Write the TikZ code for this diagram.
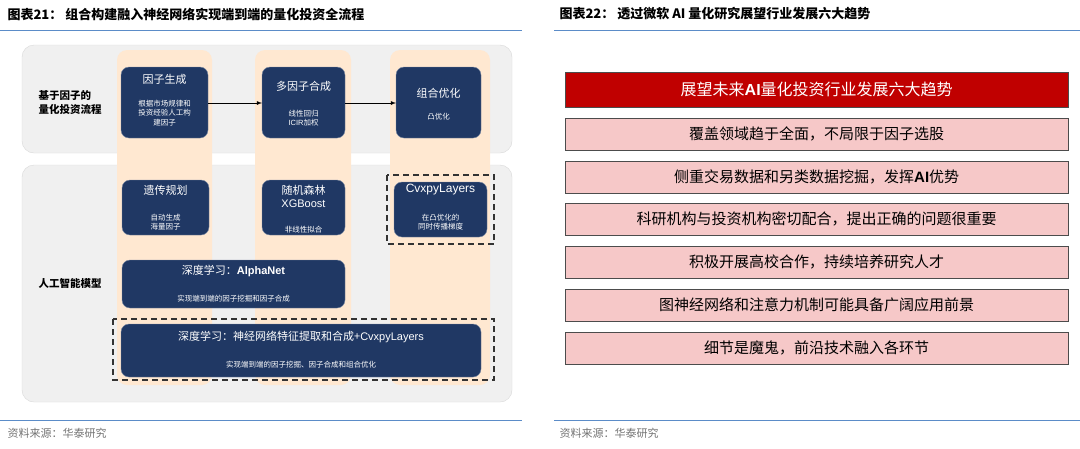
\documentclass[tikz,border=0pt]{standalone}
\usepackage{fontspec}
\setmainfont{Noto Sans CJK SC}
\newfontfamily\latinf{Liberation Sans}
\begin{document}
\begin{tikzpicture}[x=1pt,y=-1pt,
  panel/.style={fill=black!6,draw=black!15,rounded corners=12pt},
  col/.style={fill=orange!18,rounded corners=10pt},
  navy/.style={fill=navybg,draw=navybg!60,rounded corners=8pt},
  dbox/.style={draw=black!80,dashed,line width=1.2pt,dash pattern=on 6pt off 4pt},
  trend/.style={draw=black!70,fill=pinkbg,minimum width=503pt,minimum height=32pt,anchor=north west,font=\fontsize{15}{17}\selectfont},
  wt/.style={text=white,align=center},
  sm/.style={wt,font=\fontsize{7.5}{9.5}\selectfont},
  hd/.style={wt,font=\fontsize{11}{13}\selectfont},
  lbl/.style={font=\bfseries\fontsize{10.5}{14}\selectfont,align=left}]
\definecolor{navybg}{HTML}{203864}
\definecolor{pinkbg}{HTML}{F6C8C8}
\definecolor{redbg}{HTML}{C00000}
\definecolor{bluel}{HTML}{5B8CC8}
\useasboundingbox (0,0) rectangle (1080,448);
% titles
\node[anchor=west,font=\bfseries\fontsize{13}{15}\selectfont] (t1) at (4,14) {图表21：\ 组合构建融入神经网络实现端到端的量化投资全流程};
\node[anchor=west,font=\bfseries\fontsize{13}{15}\selectfont] (t2) at (556,14) {图表22：\ 透过微软 AI 量化研究展望行业发展六大趋势};
\draw[bluel,line width=0.8pt] (0,30) -- (522,30);
\draw[bluel,line width=0.8pt] (554,30) -- (1080,30);
\draw[bluel,line width=0.6pt] (0,420) -- (522,420);
\draw[bluel,line width=0.6pt] (554,420) -- (1080,420);
\node[anchor=west,text=black!55,font=\fontsize{11}{13}\selectfont] (s1) at (4,433) {资料来源：华泰研究};
\node[anchor=west,text=black!55,font=\fontsize{11}{13}\selectfont] (s2) at (556,433) {资料来源：华泰研究};
% left panels
\draw[panel] (22,45) rectangle (512,153);
\draw[panel] (22,165) rectangle (512,402);
\fill[col] (117,50) rectangle (212,385);
\fill[col] (255,50) rectangle (351,385);
\fill[col] (390,50) rectangle (490,385);
\node[lbl] (la) at (70,103) {基于因子的\\量化投资流程};
\node[lbl] (lb) at (70,283) {人工智能模型};
% top row
\draw[navy] (121,67) rectangle (208,138);
\node[hd] (a1) at (164.5,79) {因子生成};
\node[sm] (a2) at (164.5,113) {根据市场规律和\\投资经验人工构\\建因子};
\coordinate (A) at (208,103);
\draw[navy] (262,67) rectangle (345,138);
\node[hd] (b1) at (303.5,86) {多因子合成};
\node[sm] (b2) at (303.5,118) {线性回归\\{\latinf ICIR}加权};
\coordinate (B1) at (262,103); \coordinate (B2) at (345,103);
\draw[navy] (396,67) rectangle (481,138);
\node[hd] (c1) at (438.5,93) {组合优化};
\node[sm] (c2) at (438.5,117) {凸优化};
\coordinate (C) at (396,103);
\draw[-latex,line width=0.8pt] (A) -- (B1);
\draw[-latex,line width=0.8pt] (B2) -- (C);
% row 2
\draw[navy] (122,180) rectangle (209,235);
\node[hd] (d1) at (165.5,190) {遗传规划};
\node[sm] (d2) at (165.5,222) {自动生成\\海量因子};
\draw[navy] (262,180) rectangle (345,235);
\node[hd,align=center] (e1) at (303.5,196) {随机森林\\{\latinf XGBoost}};
\node[sm] (e2) at (303.5,230) {非线性拟合};
\draw[dbox] (387,175) rectangle (494,244);
\draw[navy] (394,182) rectangle (487,237);
\node[wt,font=\latinf\fontsize{12}{14}\selectfont] (f1) at (440.5,190) {CvxpyLayers};
\node[sm] (f2) at (440.5,222) {在凸优化的\\同时传播梯度};
% AlphaNet
\draw[navy] (122,260) rectangle (345,308);
\node[hd] (g1) at (233.5,271) {深度学习：{\latinf\bfseries AlphaNet}};
\node[sm] (g2) at (233.5,299) {实现端到端的因子挖掘和因子合成};
% bottom
\draw[dbox] (113,319) rectangle (494,380);
\draw[navy] (121,324) rectangle (481,377);
\node[hd] (h1) at (301,337) {深度学习：神经网络特征提取和合成+{\latinf CvxpyLayers}};
\node[sm] (h2) at (301,365) {实现端到端的因子挖掘、因子合成和组合优化};
% right panel
\node[trend,fill=redbg,text=white,minimum height=35pt,font=\fontsize{16}{18}\selectfont] (r0) at (565,72) {展望未来{\latinf\bfseries AI}量化投资行业发展六大趋势};
\node[trend] (r1) at (565,118) {覆盖领域趋于全面，不局限于因子选股};
\node[trend] (r2) at (565,161) {侧重交易数据和另类数据挖掘，发挥{\latinf\bfseries AI}优势};
\node[trend] (r3) at (565,203) {科研机构与投资机构密切配合，提出正确的问题很重要};
\node[trend] (r4) at (565,246) {积极开展高校合作，持续培养研究人才};
\node[trend] (r5) at (565,289) {图神经网络和注意力机制可能具备广阔应用前景};
\node[trend] (r6) at (565,332) {细节是魔鬼，前沿技术融入各环节};
\end{tikzpicture}
\end{document}
